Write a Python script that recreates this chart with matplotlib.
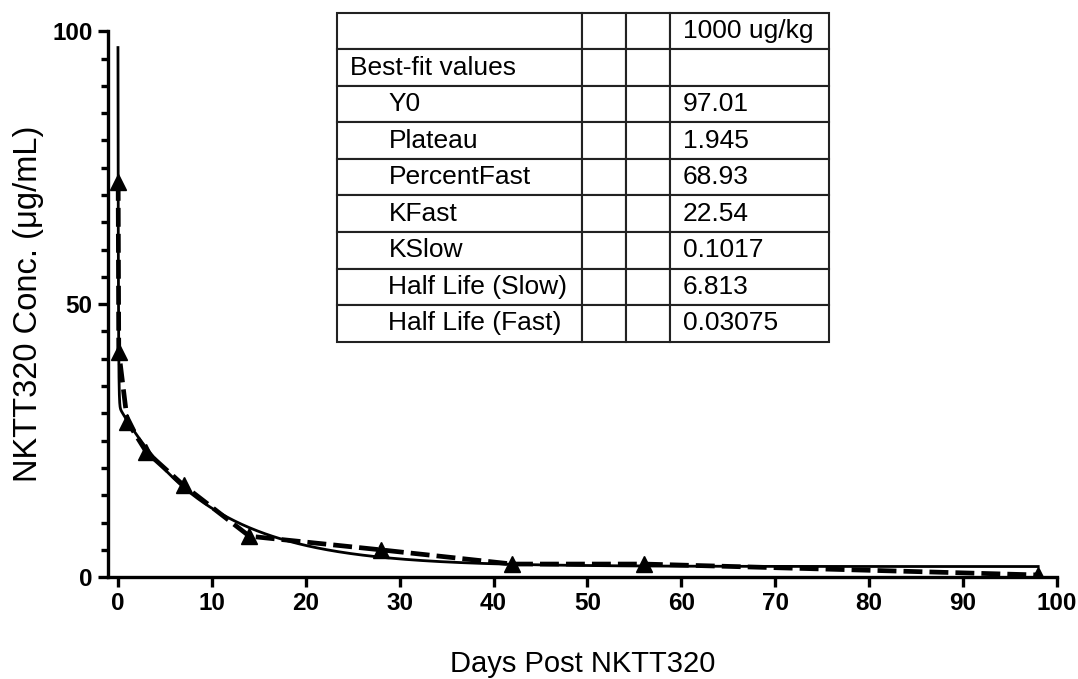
import numpy as np
import matplotlib
matplotlib.use("Agg")
import matplotlib.pyplot as plt
from matplotlib.ticker import MultipleLocator

plt.rcParams['font.family'] = ['Liberation Sans', 'DejaVu Sans']

# Mean concentration data (triangles, dashed line)
days = [0.0208, 0.0833, 1, 3, 7, 14, 28, 42, 56, 98]
conc = [72.4, 41.3, 28.5, 23.0, 16.8, 7.5, 5.0, 2.4, 2.4, 0.4]

# Two-phase decay best-fit values (table)
Y0 = 97.01
plateau = 1.945
percent_fast = 68.93
k_fast = 22.54
k_slow = 0.1017
half_slow = 6.813
half_fast = 0.03075

row_labels = ["", "Best-fit values", "Y0", "Plateau", "PercentFast", "KFast",
              "KSlow", "Half Life (Slow)", "Half Life (Fast)"]
row_values = ["1000 ug/kg", "", "97.01", "1.945", "68.93", "22.54",
              "0.1017", "6.813", "0.03075"]

# fitted curve from the table parameters
span = Y0 - plateau
x_fit = np.concatenate([np.linspace(0, 0.5, 300), np.linspace(0.5, 98, 600)])
y_fit = (plateau + span * percent_fast / 100 * np.exp(-k_fast * x_fit)
         + span * (1 - percent_fast / 100) * np.exp(-k_slow * x_fit))

fig = plt.figure(figsize=(10.78, 6.79), dpi=100)
ax = fig.add_axes([0.1002, 0.150, 0.8803, 0.804])

ax.plot(x_fit, y_fit, color="black", linewidth=2)
ax.plot(days, conc, color="black", linewidth=3.4, linestyle=(0, (4, 1.5)),
        marker="^", markersize=11)

ax.set_xlim(-1.06, 100)
ax.set_ylim(0, 100)
ax.set_xticks(np.arange(0, 101, 10))
ax.set_yticks([0, 50, 100])
ax.yaxis.set_minor_locator(MultipleLocator(5))

for side in ["top", "right"]:
    ax.spines[side].set_visible(False)
for side in ["left", "bottom"]:
    ax.spines[side].set_linewidth(2.4)
ax.tick_params(which="major", length=7, width=2.4, labelsize=17.5, pad=4)
ax.tick_params(which="minor", length=5, width=2.4)
for lab in ax.get_xticklabels() + ax.get_yticklabels():
    lab.set_fontweight("bold")

ax.set_xlabel("Days Post NKTT320", fontsize=21, labelpad=25)
ax.set_ylabel("NKTT320 Conc. (\u03bcg/mL)", fontsize=23.5, labelpad=6)

# results table
tax = fig.add_axes([0.3126, 0.497, 0.4564, 0.484])
tax.axis("off")
cells = [[lab, "", "", val] for lab, val in zip(row_labels, row_values)]
col_w = [245, 44, 44, 159]
tot = sum(col_w)
tbl = tax.table(cellText=cells, colWidths=[w / tot for w in col_w],
                cellLoc="left", bbox=[0, 0, 1, 1])
tbl.auto_set_font_size(False)
tbl.set_fontsize(19)
for (r, c), cell in tbl.get_celld().items():
    cell.set_linewidth(1.5)
    cell.set_edgecolor("#222222")
    if c == 0:
        cell.PAD = 0.055 if r < 2 else 0.21
    else:
        cell.PAD = 0.08

fig.savefig("out.png", dpi=100)
